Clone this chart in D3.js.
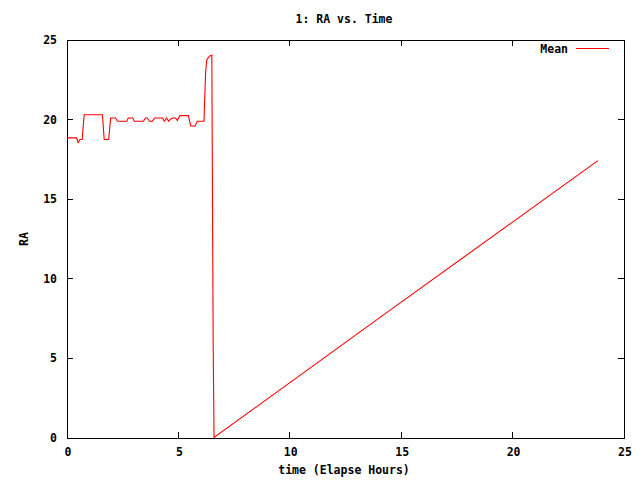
<!DOCTYPE html>
<html><head><meta charset="utf-8">
<script src="https://cdn.jsdelivr.net/npm/d3@7"></script>
<style>
body{margin:0;background:#fff;}
text{font-family:"DejaVu Sans Mono","Liberation Mono",monospace;font-weight:bold;font-size:11.5px;fill:#000;}
</style></head>
<body>
<svg id="c" width="640" height="480"></svg>
<script>
const title = "1: RA vs. Time";
const xLabel = "time (Elapse Hours)";
const yLabel = "RA";
const seriesName = "Mean";
const xTicks = [0, 5, 10, 15, 20, 25];
const yTicks = [0, 5, 10, 15, 20, 25];
const timeHours = [0.00,0.43,0.50,0.58,0.68,0.77,1.59,1.67,1.87,1.96,2.18,2.27,2.68,2.75,2.95,3.02,3.43,3.52,3.60,3.70,3.83,3.94,4.29,4.37,4.47,4.56,4.67,4.77,4.88,4.95,5.07,5.45,5.55,5.75,5.85,6.15,6.17,6.22,6.27,6.39,6.50,6.52,6.56,6.60,14.05,23.83];
const raMean    = [18.85,18.85,18.55,18.75,18.75,20.30,20.30,18.75,18.75,20.10,20.10,19.90,19.90,20.10,20.10,19.90,19.90,20.10,20.10,19.90,19.90,20.10,20.10,19.90,20.10,19.90,20.05,20.10,20.10,19.95,20.25,20.25,19.60,19.60,19.90,19.90,20.90,22.90,23.75,23.98,24.05,18.05,6.05,0.03,7.58,17.42];

const svg = d3.select("#c");
const L=67, R=624, T=40, B=438;
const x = d3.scaleLinear().domain([0,25]).range([L,R]);
const y = d3.scaleLinear().domain([0,25]).range([B,T]);

// ticks (inward, mirrored)
const tl = 6;
const g = svg.append("g").attr("shape-rendering","crispEdges").attr("stroke","#000");
xTicks.forEach(v=>{
  g.append("line").attr("x1",x(v)).attr("x2",x(v)).attr("y1",B).attr("y2",B-tl);
  g.append("line").attr("x1",x(v)).attr("x2",x(v)).attr("y1",T).attr("y2",T+tl);
});
yTicks.forEach(v=>{
  g.append("line").attr("x1",L).attr("x2",L+tl).attr("y1",y(v)).attr("y2",y(v));
  g.append("line").attr("x1",R).attr("x2",R-tl).attr("y1",y(v)).attr("y2",y(v));
});
svg.append("rect").attr("x",L+0.5).attr("y",T+0.5).attr("width",R-L).attr("height",B-T)
  .attr("fill","none").attr("stroke","#000").attr("shape-rendering","crispEdges");

svg.selectAll(".xt").data(xTicks).enter().append("text")
  .attr("x",d=>x(d)+1).attr("y",456).attr("text-anchor","middle").text(d=>d);
svg.selectAll(".yt").data(yTicks).enter().append("text")
  .attr("x",57).attr("y",d=>y(d)+4).attr("text-anchor","end").text(d=>d);

svg.append("text").attr("x",344).attr("y",23).attr("text-anchor","middle").text(title);
svg.append("text").attr("x",344).attr("y",474).attr("text-anchor","middle").text(xLabel);
svg.append("text").attr("transform","translate(28,239) rotate(-90)").attr("text-anchor","middle").text(yLabel);

// legend
svg.append("text").attr("x",568).attr("y",53).attr("text-anchor","end").text(seriesName);
svg.append("line").attr("x1",576).attr("x2",609).attr("y1",48.5).attr("y2",48.5)
  .attr("stroke","#ff0000").attr("stroke-width",1);

const data = timeHours.map((t,i)=>[t,raMean[i]]);
svg.append("path").datum(data)
  .attr("d", d3.line().x(d=>x(d[0])).y(d=>y(d[1])))
  .attr("fill","none").attr("stroke","#ff0000").attr("stroke-width",1.1);
</script>
</body></html>
